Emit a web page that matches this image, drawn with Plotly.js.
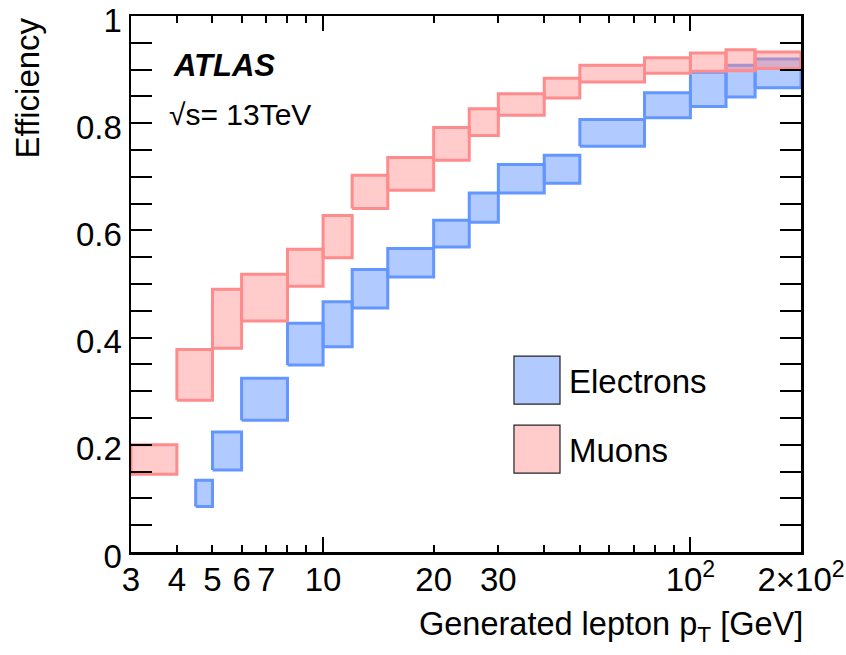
<!DOCTYPE html>
<html>
<head>
<meta charset="utf-8">
<script src="https://cdn.plot.ly/plotly-3.0.1.min.js"></script>
<style>html,body{margin:0;padding:0;background:#fff;}#chart{width:846px;height:655px;}</style>
</head>
<body>
<div id="chart"></div>
<script>
// ---- data ----
const muonEdges = [3,4,5,6,8,10,12,15,20,25,30,40,50,75,100,125,150,200];
const muonLo = [0.145,0.283,0.380,0.431,0.496,0.549,0.641,0.675,0.731,0.777,0.815,0.847,0.877,0.893,0.897,0.898,0.902];
const muonHi = [0.200,0.378,0.490,0.518,0.565,0.628,0.703,0.736,0.792,0.827,0.855,0.884,0.908,0.922,0.931,0.937,0.933];

const elecEdges = [4.5,5,6,8,10,12,15,20,25,30,40,50,75,100,125,150,200];
const elecLo = [0.085,0.153,0.246,0.349,0.383,0.455,0.513,0.569,0.615,0.670,0.688,0.757,0.810,0.831,0.849,0.866];
const elecHi = [0.134,0.224,0.324,0.427,0.467,0.527,0.566,0.619,0.670,0.723,0.740,0.807,0.857,0.895,0.908,0.920];

const labeledMinorVals = [3,4,5,6,7,20,30,200];
const labeledMinorText = ['3','4','5','6','7','20','30','2×10<sup>2</sup>'];
const plainMinorVals = [8,9,40,50,60,70,80,90];
const majorTickVals = [10,100];
const majorTickText = ['10','10<sup>2</sup>'];
const yTickVals = [0,0.2,0.4,0.6,0.8,1];
const yTickText = ['0','0.2','0.4','0.6','0.8','1'];

// ---- build box polygons from bins ----
function boxes(edges, lo, hi){
  const x=[], y=[];
  for(let i=0;i<lo.length;i++){
    x.push(edges[i],edges[i+1],edges[i+1],edges[i],edges[i],null);
    y.push(lo[i],lo[i],hi[i],hi[i],lo[i],null);
  }
  return {x,y};
}
const e = boxes(elecEdges, elecLo, elecHi);
const m = boxes(muonEdges, muonLo, muonHi);

const FONT = '"Liberation Sans", Arial, Helvetica, sans-serif';
const FS = 33;
const elecFill = 'rgba(100,150,255,0.5)', elecLine = 'rgb(100,150,255)';
const muonFill = 'rgba(255,140,140,0.45)', muonLine = 'rgb(255,140,140)';

const traces = [
  {type:'scatter', mode:'lines', name:'Electrons', x:e.x, y:e.y, fill:'toself', fillcolor:elecFill,
   line:{color:elecLine, width:3}, connectgaps:false, showlegend:false, hoverinfo:'skip'},
  {type:'scatter', mode:'lines', name:'Muons', x:m.x, y:m.y, fill:'toself', fillcolor:muonFill,
   line:{color:muonLine, width:3}, connectgaps:false, showlegend:false, hoverinfo:'skip'},
  {type:'scatter', mode:'lines', x:[], y:[], xaxis:'x2', yaxis:'y', showlegend:false, hoverinfo:'skip'},
  {type:'scatter', mode:'lines', x:[], y:[], xaxis:'x3', yaxis:'y', showlegend:false, hoverinfo:'skip'}
];

const xr = [Math.log10(3), Math.log10(200)];
const axCommon = {type:'log', range:xr, tickmode:'array', ticks:'inside', tickwidth:2, tickcolor:'#000',
  mirror:'allticks', showline:true, linewidth:2.5, linecolor:'#000', showgrid:false, zeroline:false,
  tickfont:{size:FS, family:FONT}, ticklabelstandoff:-3};
const layout = {
  width:846, height:655,
  margin:{l:131, r:45, t:15.5, b:103},
  paper_bgcolor:'#fff', plot_bgcolor:'#fff',
  font:{family:FONT, size:FS, color:'#000'},
  showlegend:false,
  xaxis:Object.assign({}, axCommon, {tickvals:labeledMinorVals, ticktext:labeledMinorText, ticklen:7}),
  xaxis2:Object.assign({}, axCommon, {overlaying:'x', anchor:'y', side:'bottom',
    tickvals:majorTickVals, ticktext:majorTickText, ticklen:15}),
  xaxis3:Object.assign({}, axCommon, {overlaying:'x', anchor:'y', side:'bottom',
    tickvals:plainMinorVals, showticklabels:false, ticklen:7}),
  yaxis:{range:[0,1], tickmode:'array', tickvals:yTickVals, ticktext:yTickText,
    ticks:'inside', ticklen:21, tickwidth:2, tickcolor:'#000', mirror:'allticks',
    minor:{dtick:0.05, ticks:'inside', ticklen:10, tickwidth:2, tickcolor:'#000', showgrid:false},
    showline:true, linewidth:2.5, linecolor:'#000', showgrid:false, zeroline:false,
    ticklabeloverflow:'allow', ticklabelshift:4, tickfont:{size:FS, family:FONT}},
  shapes:[
    {type:'rect', xref:'paper', yref:'paper', x0:0.5716, x1:0.6403, y0:0.2759, y1:0.3653,
     fillcolor:elecFill, line:{color:'#222', width:1.2}},
    {type:'rect', xref:'paper', yref:'paper', x0:0.5716, x1:0.6403, y0:0.1473, y1:0.2367,
     fillcolor:muonFill, line:{color:'#222', width:1.2}}
  ],
  annotations:[
    {text:'Electrons', xref:'paper', yref:'paper', x:(567-131)/670, y:(552-381)/536.5,
     xanchor:'left', yanchor:'middle', showarrow:false, font:{size:FS, family:FONT}},
    {text:'Muons', xref:'paper', yref:'paper', x:(567-131)/670, y:(552-450)/536.5,
     xanchor:'left', yanchor:'middle', showarrow:false, font:{size:FS, family:FONT}},
    {text:'<b><i>ATLAS</i></b>', xref:'paper', yref:'paper', x:(171-131)/670, y:(552-65)/536.5,
     xanchor:'left', yanchor:'middle', showarrow:false, font:{size:31, family:FONT}},
    {text:'√s= 13TeV', xref:'paper', yref:'paper', x:(167-131)/670, y:(552-114)/536.5,
     xanchor:'left', yanchor:'middle', showarrow:false, font:{size:30, family:FONT}},
    {text:'Efficiency', xref:'paper', yref:'paper', x:(27-131)/670, y:1.0,
     xanchor:'center', yanchor:'top', textangle:-90, showarrow:false, font:{size:FS, family:FONT}},
    {text:'Generated lepton p<sub>T</sub> [GeV]', xref:'paper', yref:'paper', x:1.006, y:(552-627)/536.5,
     xanchor:'right', yanchor:'middle', showarrow:false, font:{size:32.5, family:FONT}}
  ]
};

Plotly.newPlot('chart', traces, layout, {staticPlot:true, displayModeBar:false});
</script>
</body>
</html>
